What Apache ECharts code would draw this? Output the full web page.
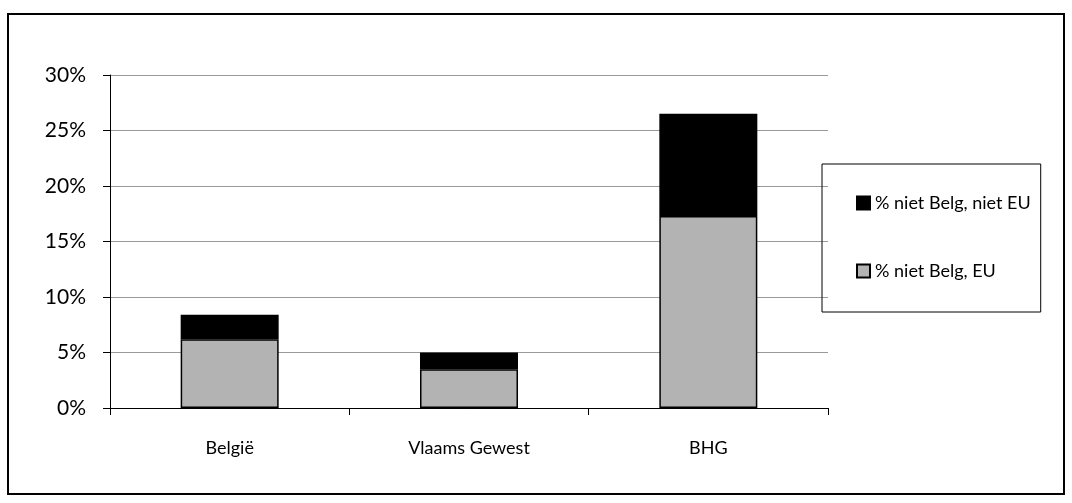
<!DOCTYPE html>
<html>
<head>
<meta charset="utf-8">
<script src="https://cdn.jsdelivr.net/npm/echarts@6/dist/echarts.min.js"></script>
<style>
html,body{margin:0;padding:0;background:#fff;}
#frame{position:absolute;left:7px;top:13px;width:1058px;height:482px;border:2px solid #000;box-sizing:border-box;}
#chart{position:absolute;left:0;top:0;width:1072px;height:503px;}
</style>
</head>
<body>
<div id="frame"></div>
<div id="chart"></div>
<script>
const categories = ['België', 'Vlaams Gewest', 'BHG'];
const euValues = [6.2, 3.5, 17.3];
const nonEuValues = [2.2, 1.5, 9.2];
const seriesNames = ['% niet Belg, EU', '% niet Belg, niet EU'];
const yTicks = [0, 5, 10, 15, 20, 25, 30];

const chart = echarts.init(document.getElementById('chart'));
const font = 'Lato, "Open Sans", sans-serif';
chart.setOption({
  animation: false,
  textStyle: { fontFamily: font },
  grid: { left: 110, right: 244, top: 75, bottom: 95 },
  legend: {
    orient: 'vertical',
    left: 822,
    top: 164,
    icon: 'rect',
    data: [seriesNames[1], seriesNames[0]],
    itemWidth: 13,
    itemHeight: 13,
    itemGap: 50,
    padding: [30, 10, 32, 34],
    borderColor: '#000',
    borderWidth: 1,
    textStyle: { fontFamily: font, fontSize: 18, color: '#000' }
  },
  xAxis: {
    type: 'category',
    data: categories,
    axisLine: { lineStyle: { color: '#000' } },
    axisTick: { show: true, length: 7, lineStyle: { color: '#000' } },
    axisLabel: { color: '#000', fontSize: 18, margin: 31, fontFamily: font }
  },
  yAxis: {
    type: 'value',
    min: 0, max: 30, interval: 5,
    axisLine: { show: true, lineStyle: { color: '#000' } },
    axisTick: { show: true, length: 7, lineStyle: { color: '#000' } },
    splitLine: { lineStyle: { color: '#9a9a9a' } },
    axisLabel: {
      color: '#000', fontSize: 21, margin: 24, fontFamily: font,
      formatter: v => yTicks.includes(v) ? v + '%' : ''
    }
  },
  series: [
    {
      name: seriesNames[0], type: 'bar', stack: 'a', data: euValues,
      barWidth: 98,
      itemStyle: { color: '#b3b3b3', borderColor: '#000', borderWidth: 1.5 }
    },
    {
      name: seriesNames[1], type: 'bar', stack: 'a', data: nonEuValues,
      barWidth: 98,
      itemStyle: { color: '#000', borderColor: '#000', borderWidth: 1.5 }
    }
  ]
});
</script>
</body>
</html>
